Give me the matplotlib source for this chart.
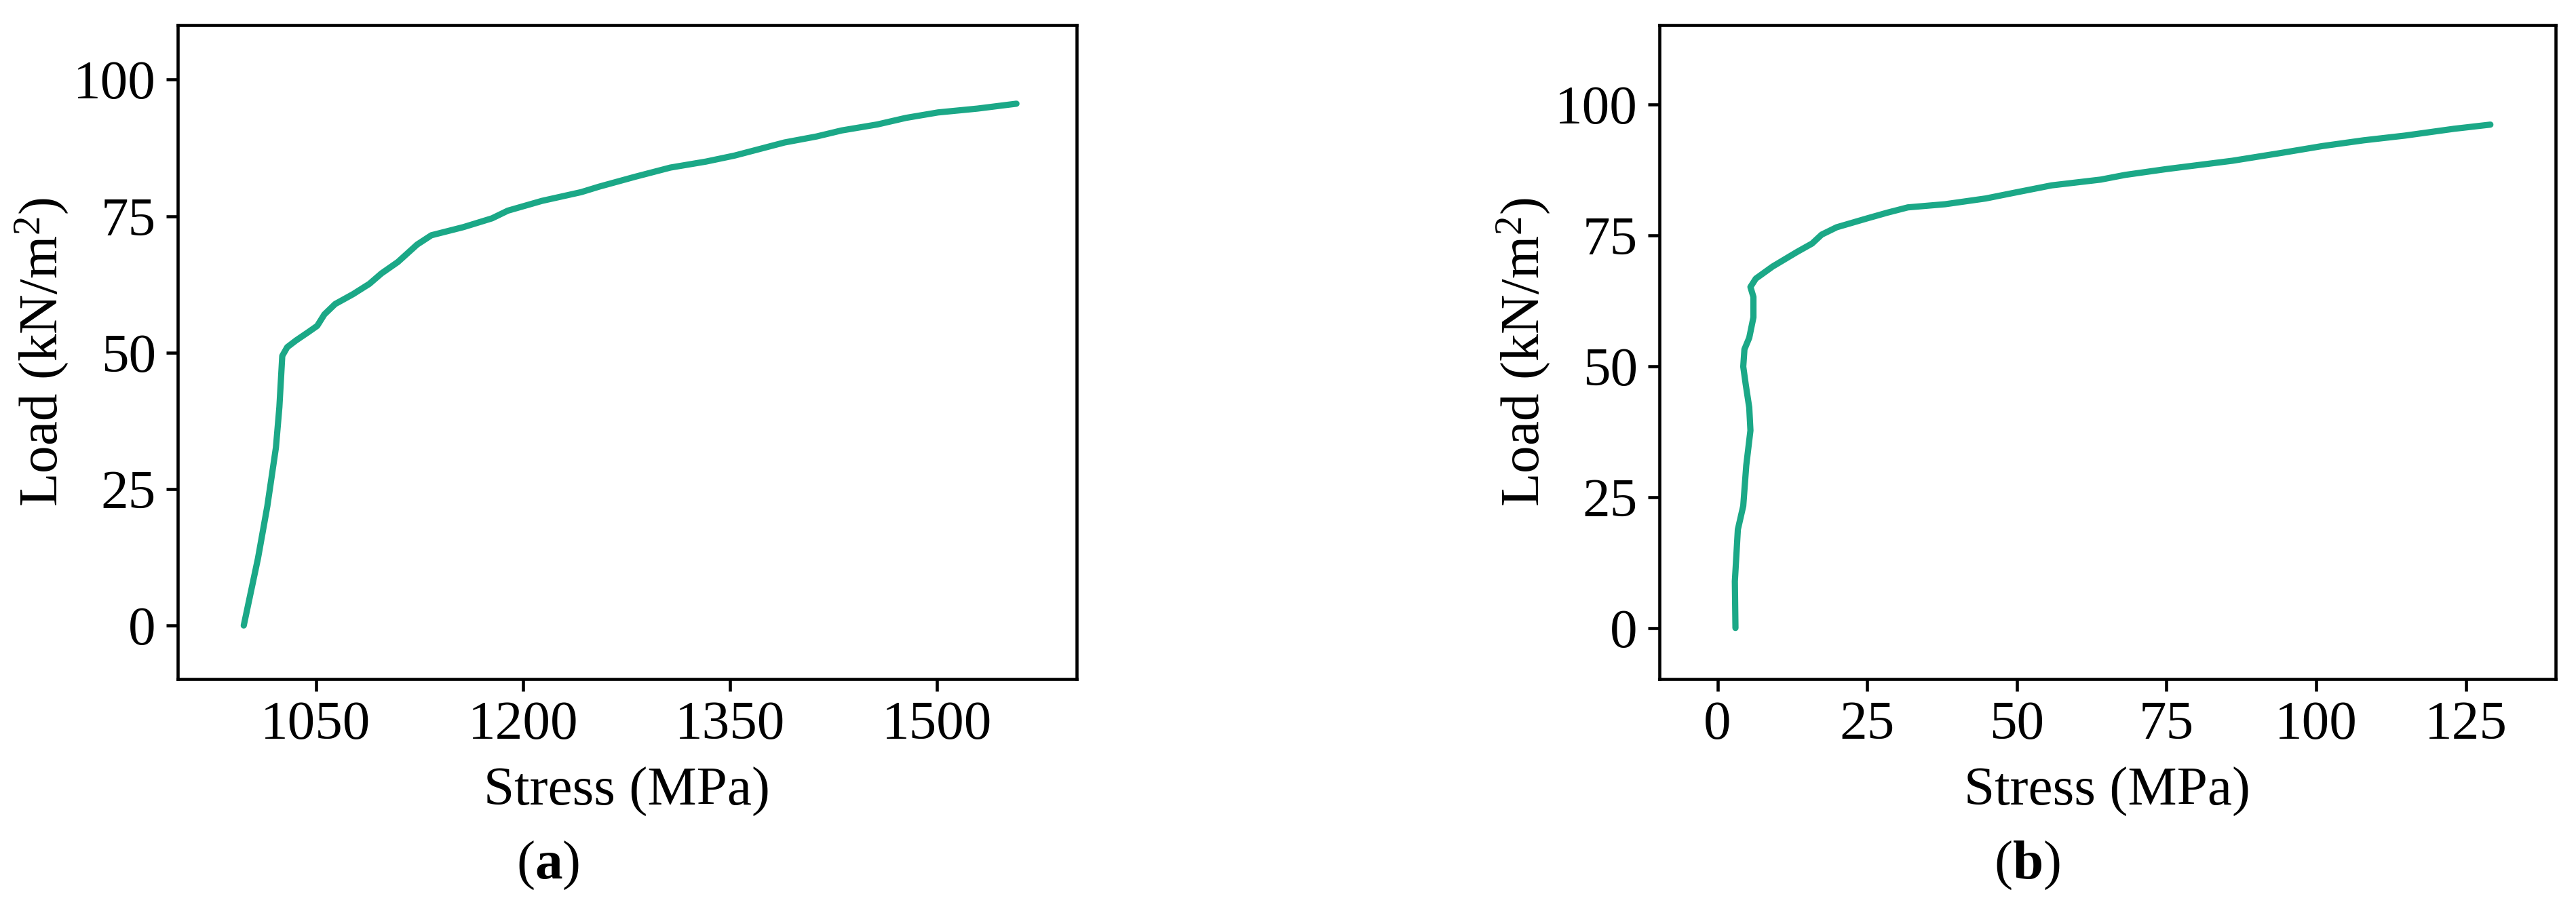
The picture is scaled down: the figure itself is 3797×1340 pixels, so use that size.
import matplotlib
matplotlib.use("Agg")
import matplotlib.pyplot as plt

plt.rcParams['font.family'] = ['Liberation Serif', 'DejaVu Serif']
plt.rcParams['mathtext.fontset'] = 'custom'
plt.rcParams['mathtext.rm'] = 'Liberation Serif'
plt.rcParams['mathtext.it'] = 'Liberation Serif:italic'
plt.rcParams['mathtext.bf'] = 'Liberation Serif:bold'

# ---- data ----
stress_a = [997.8, 1008.1, 1014.9, 1021.1, 1023.6, 1025.7, 1029.3, 1035.5, 1044.8, 1051.0,
            1056.2, 1064.0, 1076.9, 1088.8, 1097.5, 1109.4, 1123.4, 1133.7, 1157.0, 1177.6,
            1189.0, 1213.8, 1242.2, 1255.1, 1281.0, 1306.8, 1332.6, 1353.3, 1371.4, 1389.5,
            1412.7, 1430.8, 1456.7, 1477.3, 1500.6, 1529.0, 1557.4]
load_a = [0.0, 12.3, 21.9, 32.6, 40.0, 49.4, 51.0, 52.2, 53.8, 54.9,
          57.0, 58.9, 60.7, 62.6, 64.5, 66.6, 69.8, 71.5, 73.0, 74.6,
          76.0, 77.8, 79.4, 80.4, 82.2, 83.9, 85.0, 86.1, 87.3, 88.5,
          89.6, 90.7, 91.8, 93.0, 94.0, 94.7, 95.6]

stress_b = [3.0, 2.9, 3.4, 4.3, 4.8, 5.5, 5.3, 4.7, 4.3, 4.5, 5.3, 6.0, 6.0, 5.5, 6.4,
            9.2, 13.3, 15.8, 17.4, 19.9, 25.0, 28.4, 31.8, 38.0, 44.8, 49.6, 55.8, 64.0,
            68.1, 74.9, 86.0, 94.2, 101.0, 107.9, 114.8, 123.0, 129.1]
load_b = [0.0, 8.9, 18.8, 23.3, 31.0, 37.7, 42.1, 46.6, 49.9, 53.2, 55.4, 59.3, 63.2, 65.1, 66.7,
          69.0, 71.8, 73.4, 75.1, 76.5, 78.2, 79.3, 80.3, 80.9, 82.0, 83.1, 84.5, 85.6,
          86.5, 87.6, 89.2, 90.7, 92.0, 93.1, 94.0, 95.3, 96.1]

xticks_a = [1050, 1200, 1350, 1500]
xticks_b = [0, 25, 50, 75, 100, 125]
yticks = [0, 25, 50, 75, 100]
xlabel = "Stress (MPa)"
ylabel = "Load (kN/m$^{2}$)"
panel_labels = [r"($\mathbf{a}$)", r"($\mathbf{b}$)"]

COLOR = '#1ba887'
FS = 19.5

fig = plt.figure(figsize=(3797 / 300, 1340 / 300), dpi=300)
ax_a = fig.add_axes([0.06900, 0.25299, 0.34896, 0.71940])
ax_b = fig.add_axes([0.64419, 0.25299, 0.34791, 0.71940])

def style(ax):
    for s in ax.spines.values():
        s.set_linewidth(1.1)
    ax.tick_params(direction='out', length=4.2, width=1.1, labelsize=FS, pad=3.5)
    ax.set_xlabel(xlabel, fontsize=FS, labelpad=6)
    ax.set_ylabel(ylabel, fontsize=FS, labelpad=1)

ax_a.plot(stress_a, load_a, color=COLOR, lw=2.2, solid_capstyle='round', solid_joinstyle='round')
ax_a.set_xlim(950, 1601)
ax_a.set_ylim(-9.8, 110)
ax_a.set_xticks(xticks_a)
ax_a.set_yticks(yticks)
style(ax_a)

ax_b.plot(stress_b, load_b, color=COLOR, lw=2.2, solid_capstyle='round', solid_joinstyle='round')
ax_b.set_xlim(-9.7, 140)
ax_b.set_ylim(-9.75, 115.1)
ax_b.set_xticks(xticks_b)
ax_b.set_yticks(yticks)
style(ax_b)

fig.text(808 / 3797, 1 - 1295 / 1340, panel_labels[0], fontsize=FS, ha='center', va='baseline')
fig.text(2988 / 3797, 1 - 1295 / 1340, panel_labels[1], fontsize=FS, ha='center', va='baseline')

fig.savefig("out.png", dpi=300)
